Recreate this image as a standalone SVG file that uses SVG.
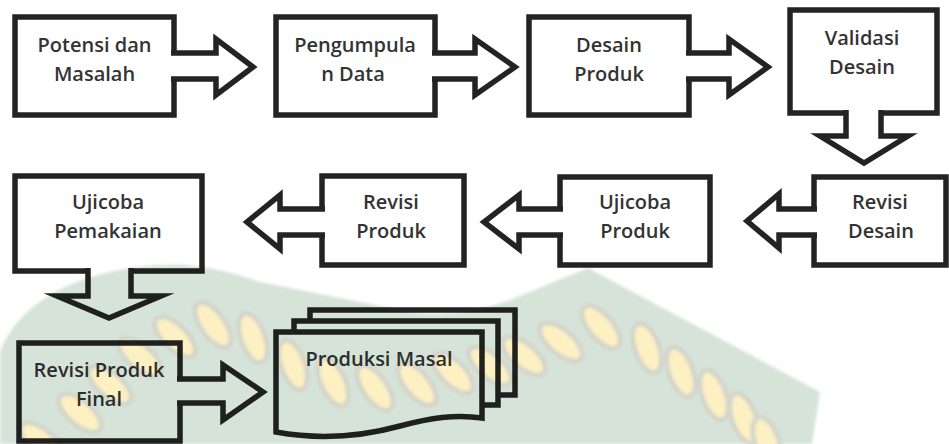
<svg xmlns="http://www.w3.org/2000/svg" width="949" height="444" viewBox="0 0 949 444">
<style>
.box{fill:#fff;stroke:#232323;stroke-width:5.5;stroke-linejoin:miter}
.arr{fill:#fff;stroke:#232323;stroke-width:5.5;stroke-linejoin:miter;stroke-miterlimit:10}
.t{font-family:"Open Sans","Noto Sans","DejaVu Sans",sans-serif;font-weight:600;font-size:20px;fill:#333;text-anchor:middle}
.wm{mix-blend-mode:multiply}
.leaf{fill:#fdf0c2;stroke:#d4d6cb;stroke-width:5}
</style>
<defs><filter id="soft" x="-5%" y="-5%" width="110%" height="110%"><feGaussianBlur stdDeviation="1.6"/></filter></defs>
<rect x="0" y="0" width="949" height="444" fill="#fff"/>
<g id="n1"><rect class="box" x="15" y="17" width="159" height="98"/><text class="t" x="94.5" y="52">Potensi dan</text><text class="t" x="94.5" y="81">Masalah</text></g>
<g id="n2"><rect class="box" x="276" y="17" width="159" height="98"/><text class="t" x="355" y="52">Pengumpula</text><text class="t" x="353" y="81">n Data</text></g>
<g id="n3"><rect class="box" x="529" y="17" width="160" height="98"/><text class="t" x="609" y="52">Desain</text><text class="t" x="609" y="81">Produk</text></g>
<g id="n4"><rect class="box" x="790" y="10" width="147" height="103"/><text class="t" x="862" y="45">Validasi</text><text class="t" x="862" y="74">Desain</text></g>
<g id="n5"><rect class="box" x="814" y="177" width="132" height="88"/><text class="t" x="880" y="209">Revisi</text><text class="t" x="881" y="238">Desain</text></g>
<g id="n6"><rect class="box" x="560" y="177" width="150" height="88"/><text class="t" x="635" y="209">Ujicoba</text><text class="t" x="635" y="238">Produk</text></g>
<g id="n7"><rect class="box" x="322" y="176" width="142" height="89"/><text class="t" x="391" y="209">Revisi</text><text class="t" x="391" y="238">Produk</text></g>
<g id="n8"><rect class="box" x="15" y="176" width="187" height="95"/><text class="t" x="108" y="209">Ujicoba</text><text class="t" x="108" y="238">Pemakaian</text></g>
<g id="n9"><rect class="box" x="19" y="343" width="161" height="98"/><text class="t" x="99" y="377">Revisi Produk</text><text class="t" x="99" y="406">Final</text></g>
<g id="n10">
<rect class="box" x="310" y="310" width="205" height="85"/>
<rect class="box" x="294" y="321" width="204" height="84"/>
<path class="box" d="M276,332 H482 V418 C455,414 430,418 400,426 C360,437 320,440 276,432 Z"/>
<text class="t" x="379" y="366">Produksi Masal</text>
</g>
<g id="connectors">
<path class="arr" d="M171,53 H216 V39 L253,67 L216,95 V79 H171"/>
<path class="arr" d="M432,53 H475 V39 L515,67 L475,95 V79 H432"/>
<path class="arr" d="M686,53 H729 V39 L768,67 L729,95 V79 H686"/>
<path class="arr" d="M846,110 V136 H820 L864,163 L908,136 H881 V110"/>
<path class="arr" d="M817,209 H779 V194 L747,221 L779,248 V235 H817"/>
<path class="arr" d="M563,209 H519 V195 L484,222 L519,249 V235 H563"/>
<path class="arr" d="M325,209 H280 V195 L247,222 L280,249 V235 H325"/>
<path class="arr" d="M88,268 V296 H57 L109,318 L161,296 H131 V268"/>
<path class="arr" d="M177,379 H223 V365 L263,392 L223,420 V403 H177"/>
</g>
<g id="watermark" class="wm">
<g filter="url(#soft)">
<path fill="#d6e3d9" d="M0,352 C20,300 80,270 160,265 C200,263 230,272 260,282 L410,312 Q460,318 510,300 L588,268 L820,392 L812,444 L0,444 Z"/>
<ellipse class="leaf" cx="42" cy="442" rx="12" ry="26" transform="rotate(-50 42 442)"/>
<ellipse class="leaf" cx="80" cy="413" rx="12" ry="26" transform="rotate(-50 80 413)"/>
<ellipse class="leaf" cx="110" cy="385" rx="12" ry="26" transform="rotate(-50 110 385)"/>
<ellipse class="leaf" cx="140" cy="357" rx="12" ry="26" transform="rotate(-50 140 357)"/>
<ellipse class="leaf" cx="175" cy="337" rx="12" ry="26" transform="rotate(-45 175 337)"/>
<ellipse class="leaf" cx="213" cy="325" rx="12" ry="26" transform="rotate(-35 213 325)"/>
<ellipse class="leaf" cx="253" cy="338" rx="12" ry="26" transform="rotate(-20 253 338)"/>
<ellipse class="leaf" cx="293" cy="365" rx="12" ry="26" transform="rotate(-20 293 365)"/>
<ellipse class="leaf" cx="333" cy="382" rx="12" ry="26" transform="rotate(-25 333 382)"/>
<ellipse class="leaf" cx="375" cy="388" rx="12" ry="26" transform="rotate(-35 375 388)"/>
<ellipse class="leaf" cx="417" cy="384" rx="12" ry="26" transform="rotate(-40 417 384)"/>
<ellipse class="leaf" cx="453" cy="373" rx="12" ry="26" transform="rotate(-45 453 373)"/>
<ellipse class="leaf" cx="490" cy="366" rx="12" ry="26" transform="rotate(-50 490 366)"/>
<ellipse class="leaf" cx="524" cy="356" rx="12" ry="26" transform="rotate(-50 524 356)"/>
<ellipse class="leaf" cx="561" cy="342" rx="12" ry="26" transform="rotate(-50 561 342)"/>
<ellipse class="leaf" cx="601" cy="327" rx="12" ry="26" transform="rotate(-40 601 327)"/>
<ellipse class="leaf" cx="647" cy="348" rx="12" ry="26" transform="rotate(-20 647 348)"/>
<ellipse class="leaf" cx="681" cy="372" rx="12" ry="26" transform="rotate(-20 681 372)"/>
<ellipse class="leaf" cx="714" cy="395" rx="12" ry="26" transform="rotate(-20 714 395)"/>
<ellipse class="leaf" cx="744" cy="418" rx="12" ry="26" transform="rotate(-20 744 418)"/>
<ellipse class="leaf" cx="767" cy="442" rx="12" ry="26" transform="rotate(-20 767 442)"/>
</g>
</g>
</svg>
